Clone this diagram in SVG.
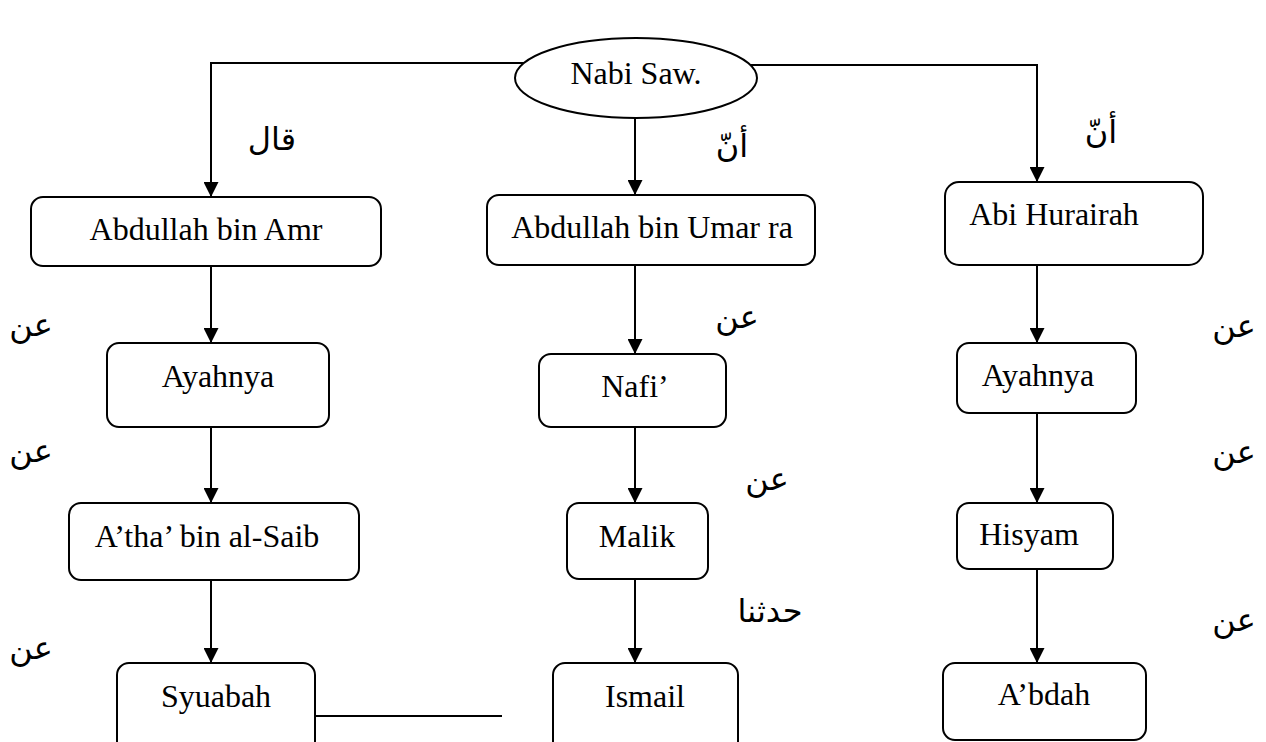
<svg xmlns="http://www.w3.org/2000/svg" width="1266" height="742" viewBox="0 0 1266 742">
<defs>
<marker id="arr" viewBox="0 0 15 15" refX="15" refY="7.5" markerWidth="15" markerHeight="15" markerUnits="userSpaceOnUse" orient="auto">
<path d="M0,0 L15,7.5 L0,15 z" fill="#000"/>
</marker>
<style>
.box{fill:#fff;stroke:#000;stroke-width:2}
.t{font-family:"Liberation Serif","Times New Roman",serif;font-size:32px;fill:#000;text-anchor:middle}
.ar{font-family:"Liberation Serif","DejaVu Sans",serif;font-size:32px;fill:#000;text-anchor:middle}
.c{fill:none;stroke:#000;stroke-width:2}
.ca{fill:none;stroke:#000;stroke-width:2;marker-end:url(#arr)}
</style>
</defs>
<rect width="1266" height="742" fill="#fff"/>
<g id="connectors">
<polyline class="ca" points="524,63 211,63 211,197"/>
<polyline class="ca" points="750,65 1037,65 1037,182"/>
<line class="ca" x1="635" y1="118" x2="635" y2="195"/>
<line class="ca" x1="211" y1="266" x2="211" y2="343"/>
<line class="ca" x1="211" y1="427" x2="211" y2="503"/>
<line class="ca" x1="211" y1="580" x2="211" y2="663"/>
<line class="ca" x1="635" y1="265" x2="635" y2="354"/>
<line class="ca" x1="635" y1="427" x2="635" y2="503"/>
<line class="ca" x1="635" y1="579" x2="635" y2="663"/>
<line class="ca" x1="1037" y1="265" x2="1037" y2="343"/>
<line class="ca" x1="1037" y1="413" x2="1037" y2="503"/>
<line class="ca" x1="1037" y1="569" x2="1037" y2="663"/>
<line class="c" x1="315" y1="716" x2="502" y2="716"/>
</g>
<g id="nabi">
<ellipse class="box" cx="636" cy="78" rx="121" ry="40"/>
<text class="t" x="636" y="84">Nabi Saw.</text>
</g>
<g id="abdullah-amr">
<rect class="box" x="31" y="197" width="350" height="69" rx="12"/>
<text class="t" x="206" y="240">Abdullah bin Amr</text>
</g>
<g id="abdullah-umar">
<rect class="box" x="487" y="195" width="328" height="70" rx="12"/>
<text class="t" x="652" y="238">Abdullah bin Umar ra</text>
</g>
<g id="abi-hurairah">
<rect class="box" x="945" y="182" width="258" height="83" rx="14"/>
<text class="t" x="1054" y="225">Abi Hurairah</text>
</g>
<g id="ayahnya-1">
<rect class="box" x="107" y="343" width="222" height="84" rx="12"/>
<text class="t" x="218" y="387">Ayahnya</text>
</g>
<g id="nafi">
<rect class="box" x="539" y="354" width="187" height="73" rx="12"/>
<text class="t" x="635" y="397">Nafi’</text>
</g>
<g id="ayahnya-2">
<rect class="box" x="957" y="343" width="179" height="70" rx="12"/>
<text class="t" x="1038" y="386">Ayahnya</text>
</g>
<g id="atha">
<rect class="box" x="69" y="503" width="290" height="77" rx="12"/>
<text class="t" x="207" y="547">A’tha’ bin al-Saib</text>
</g>
<g id="malik">
<rect class="box" x="567" y="503" width="141" height="76" rx="12"/>
<text class="t" x="637" y="547">Malik</text>
</g>
<g id="hisyam">
<rect class="box" x="957" y="503" width="156" height="66" rx="12"/>
<text class="t" x="1029" y="545">Hisyam</text>
</g>
<g id="syuabah">
<rect class="box" x="117" y="663" width="198" height="100" rx="12"/>
<text class="t" x="216" y="707">Syuabah</text>
</g>
<g id="ismail">
<rect class="box" x="553" y="663" width="185" height="100" rx="12"/>
<text class="t" x="645" y="707">Ismail</text>
</g>
<g id="abdah">
<rect class="box" x="943" y="663" width="203" height="77" rx="12"/>
<text class="t" x="1044" y="705">A’bdah</text>
</g>
<g id="labels">
<text class="ar" x="272" y="150">قال</text>
<text class="ar" x="732" y="157">أنّ</text>
<text class="ar" x="1101" y="143">أنّ</text>
<text class="ar" x="31" y="336">عن</text>
<text class="ar" x="31" y="462">عن</text>
<text class="ar" x="31" y="659">عن</text>
<text class="ar" x="737" y="328">عن</text>
<text class="ar" x="767" y="490">عن</text>
<text class="ar" x="770" y="622">حدثنا</text>
<text class="ar" x="1234" y="337">عن</text>
<text class="ar" x="1234" y="463">عن</text>
<text class="ar" x="1234" y="631">عن</text>
</g>
</svg>
